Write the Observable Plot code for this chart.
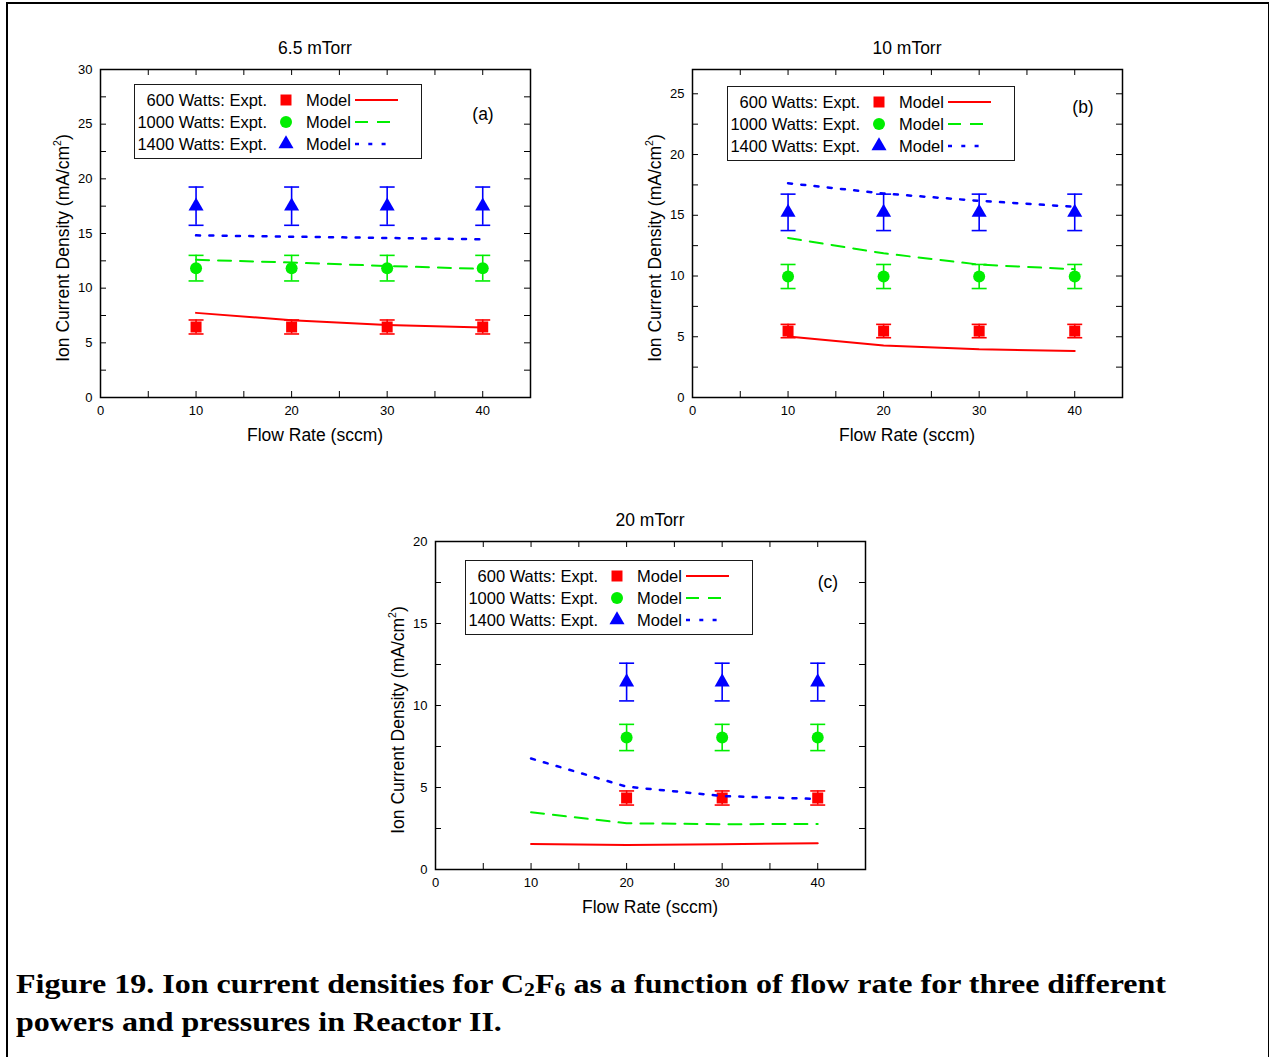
<!DOCTYPE html>
<html>
<head>
<meta charset="utf-8">
<script src="https://cdn.jsdelivr.net/npm/d3@7"></script>
<script src="https://cdn.jsdelivr.net/npm/@observablehq/plot@0.6"></script>
<style>
  html, body { margin: 0; padding: 0; background: #fff; overflow: hidden; }
  #page { position: relative; width: 1270px; height: 1057px; overflow: hidden;
          font-family: "Liberation Sans", Arial, sans-serif; color: #000; }
  #border { position: absolute; left: 6px; top: 2px; width: 1263px; height: 1100px;
            border: 2px solid #000; border-right-width: 1.5px; box-sizing: border-box; }
  .lbl { position: absolute; white-space: nowrap; line-height: 1; }
  .legend { position: absolute; width: 288px; height: 75px; border: 1.5px solid #1a1a1a;
            box-sizing: border-box; background: #fff; font-size: 16.5px; }
  .legend .t { position: absolute; white-space: nowrap; line-height: 1; transform: translateY(-50%); }
  .legend svg { position: absolute; overflow: visible; }
  #caption { position: absolute; left: 16px; top: 965px;
             font-family: "Liberation Serif", "Times New Roman", Tinos, serif;
             font-weight: bold; font-size: 27px; line-height: 38px; white-space: nowrap; transform-origin: 0 0; }
  #caption sub { font-size: 0.68em; vertical-align: -0.15em; line-height: 0; }
</style>
</head>
<body>
<div id="page"><div id="border"></div></div>
<script>
// ---- data ----------------------------------------------------------------
const flowRate = [10, 20, 30, 40];          // sccm, model curves and most measurements
const flowRateExptC = [20, 30, 40];         // measured flows at 20 mTorr
const powerLabels = ["600 Watts", "1000 Watts", "1400 Watts"];
const pressureTitles = ["6.5 mTorr", "10 mTorr", "20 mTorr"];
const panelTags = ["(a)", "(b)", "(c)"];
const yTopValues = [30, 27, 20];
const xTickValues = [0, 10, 20, 30, 40];

// 6.5 mTorr: measured mean, error half-width, model (rows: 600, 1000, 1400 W)
const exptA = [[6.45, 6.45, 6.45, 6.45], [11.83, 11.83, 11.83, 11.83], [17.5, 17.5, 17.5, 17.5]];
const errA = [0.64, 1.17, 1.75];
const modelA = [[7.74, 7.07, 6.64, 6.40], [12.60, 12.34, 12.03, 11.76], [14.83, 14.71, 14.59, 14.47]];

// 10 mTorr
const exptB = [[5.47, 5.47, 5.47, 5.47], [9.96, 9.96, 9.96, 9.96], [15.24, 15.24, 15.24, 15.24]];
const errB = [0.55, 0.99, 1.5];
const modelB = [[5.03, 4.29, 3.97, 3.83], [13.13, 11.87, 10.94, 10.56], [17.64, 16.79, 16.19, 15.70]];

// 20 mTorr
const exptC = [[4.36, 4.36, 4.36], [8.05, 8.05, 8.05], [11.43, 11.43, 11.43]];
const errC = [0.43, 0.80, 1.15];
const modelC = [[1.56, 1.50, 1.54, 1.60], [3.49, 2.82, 2.76, 2.78], [6.77, 5.05, 4.48, 4.30]];

// ---- styling -------------------------------------------------------------
const seriesStyle = [
  {color: "#ff0000", symbol: "square",   r: 6.2, dash: null,    width: 2,   key: 43},
  {color: "#00ee00", symbol: "circle",   r: 6.0, dash: "13,9",  width: 2,   key: 35},
  {color: "#0000ff", symbol: "triangle", r: 5.6, dash: "4,9.3", width: 2.5, key: 31}
];
const d3Symbols = {square: d3.symbolSquare, circle: d3.symbolCircle, triangle: d3.symbolTriangle};
const W = 430, H = 328, ML = 40, MR = 20, MT = 20, MB = 34, TICK = 6;
const FONT = '"Liberation Sans", Arial, sans-serif';
const page = document.getElementById("page");

// horizontal cap drawn at each end of an error bar
const capSymbol = {draw(context) { context.moveTo(-7.5, 0); context.lineTo(7.5, 0); }};

function addLabel(html, cx, cy, size, rotate = 0) {
  const el = document.createElement("div");
  el.className = "lbl";
  el.style.left = cx + "px";
  el.style.top = cy + "px";
  el.style.fontSize = size + "px";
  el.style.transform = `translate(-50%,-50%) rotate(${rotate}deg)`;
  el.innerHTML = html;
  page.appendChild(el);
}

function addLegend(left, top) {
  const box = document.createElement("div");
  box.className = "legend";
  box.style.left = left + "px";
  box.style.top = top + "px";
  seriesStyle.forEach((s, i) => {
    const cy = 15 + 22 * i;
    const name = document.createElement("div");
    name.className = "t";
    name.style.right = (288 - 3 - 131) + "px";
    name.style.top = cy + "px";
    name.textContent = `${powerLabels[i]}: Expt.`;
    box.appendChild(name);

    const mk = d3.create("svg").attr("width", 1).attr("height", 1)
      .style("left", "151px").style("top", cy + "px");
    mk.append("path")
      .attr("d", d3.symbol(d3Symbols[s.symbol], Math.PI * s.r * s.r)())
      .attr("fill", s.color);
    box.appendChild(mk.node());

    const model = document.createElement("div");
    model.className = "t";
    model.style.left = "171px";
    model.style.top = cy + "px";
    model.textContent = "Model";
    box.appendChild(model);

    const ln = d3.create("svg").attr("width", 1).attr("height", 1)
      .style("left", "220px").style("top", cy + "px");
    ln.append("line").attr("x1", 0).attr("x2", s.key).attr("y1", 0).attr("y2", 0)
      .attr("stroke", s.color).attr("stroke-width", s.width)
      .attr("stroke-dasharray", s.dash);
    box.appendChild(ln.node());
  });
  page.appendChild(box);
}

function drawPanel(k, frameLeft, frameTop, expt, err, model, exptFlow, tagDx, tagDy, legendDx, legendDy) {
  const yMax = yTopValues[k];
  const yMajor = d3.range(0, yMax + 1e-9, 5);
  const yAll = d3.range(2.5, yMax, 2.5);
  const xAll = d3.range(5, 45, 5);

  const marks = [
    Plot.tickY(yAll, {y: d => d, insetRight: W - TICK, stroke: "#000"}),
    Plot.tickY(yAll, {y: d => d, insetLeft: W - TICK, stroke: "#000"}),
    Plot.tickX(xAll, {x: d => d, insetTop: H - TICK, stroke: "#000"}),
    Plot.tickX(xAll, {x: d => d, insetBottom: H - TICK, stroke: "#000"}),
    Plot.axisX({ticks: xTickValues, tickSize: 0, tickPadding: 8, label: null, fontSize: 13, fontFamily: FONT}),
    Plot.axisY({ticks: yMajor, tickSize: 0, tickPadding: 8, label: null, fontSize: 13, fontFamily: FONT})
  ];

  seriesStyle.forEach((s, i) => {
    const rows = exptFlow.map((f, j) => ({flow: f, value: expt[i][j], err: err[i]}));
    marks.push(
      Plot.ruleX(rows, {x: "flow", y1: d => d.value - d.err, y2: d => d.value + d.err, stroke: s.color, strokeWidth: 1.6}),
      Plot.dot(rows, {x: "flow", y: d => d.value + d.err, symbol: capSymbol, r: 1, fill: "none", stroke: s.color, strokeWidth: 1.6}),
      Plot.dot(rows, {x: "flow", y: d => d.value - d.err, symbol: capSymbol, r: 1, fill: "none", stroke: s.color, strokeWidth: 1.6}),
      Plot.dot(rows, {x: "flow", y: "value", symbol: s.symbol, r: s.r, fill: s.color, stroke: "none"})
    );
  });
  seriesStyle.forEach((s, i) => {
    const curve = flowRate.map((f, j) => ({flow: f, value: model[i][j]}));
    marks.push(Plot.line(curve, {x: "flow", y: "value", stroke: s.color,
      strokeWidth: s.width, strokeDasharray: s.dash}));
  });
  marks.push(Plot.frame({stroke: "#000", strokeWidth: 1.5}));

  const svg = Plot.plot({
    width: ML + W + MR, height: MT + H + MB,
    marginLeft: ML, marginRight: MR, marginTop: MT, marginBottom: MB,
    x: {domain: [0, 45]},
    y: {domain: [0, yMax]},
    style: {fontFamily: FONT, fontSize: "13px", background: "none", overflow: "visible", color: "#000"},
    marks
  });
  svg.style.position = "absolute";
  svg.style.left = (frameLeft - ML) + "px";
  svg.style.top = (frameTop - MT) + "px";
  page.appendChild(svg);

  const cx = frameLeft + W / 2;
  addLabel(pressureTitles[k], cx, frameTop - 20.5, 17.5);
  addLabel("Flow Rate (sccm)", cx, frameTop + H + 39, 17.5);
  addLabel('Ion Current Density (mA/cm<sup style="font-size:0.6em;vertical-align:0.75em;line-height:0">2</sup>)',
           frameLeft - 36.5, frameTop + H / 2 + 14.5, 17.5, -90);
  addLabel(panelTags[k], frameLeft + tagDx, frameTop + tagDy, 17.5);
  addLegend(frameLeft + legendDx, frameTop + legendDy);
}

drawPanel(0, 100, 69, exptA, errA, modelA, flowRate, 383, 46, 34, 15);
drawPanel(1, 692, 69, exptB, errB, modelB, flowRate, 391, 39, 35, 17);
drawPanel(2, 435, 541, exptC, errC, modelC, flowRateExptC, 393, 42, 30, 19);

// figure caption
const cap = document.createElement("div");
cap.id = "caption";
cap.innerHTML = '<span id="cap1">Figure 19. Ion current densities for C<sub>2</sub>F<sub>6</sub> as a function of flow rate for three different</span><br>powers and pressures in Reactor II.';
page.appendChild(cap);
const w1 = document.getElementById("cap1").getBoundingClientRect().width;
cap.style.transform = `scaleX(${1150 / w1})`;
</script>
</body>
</html>
